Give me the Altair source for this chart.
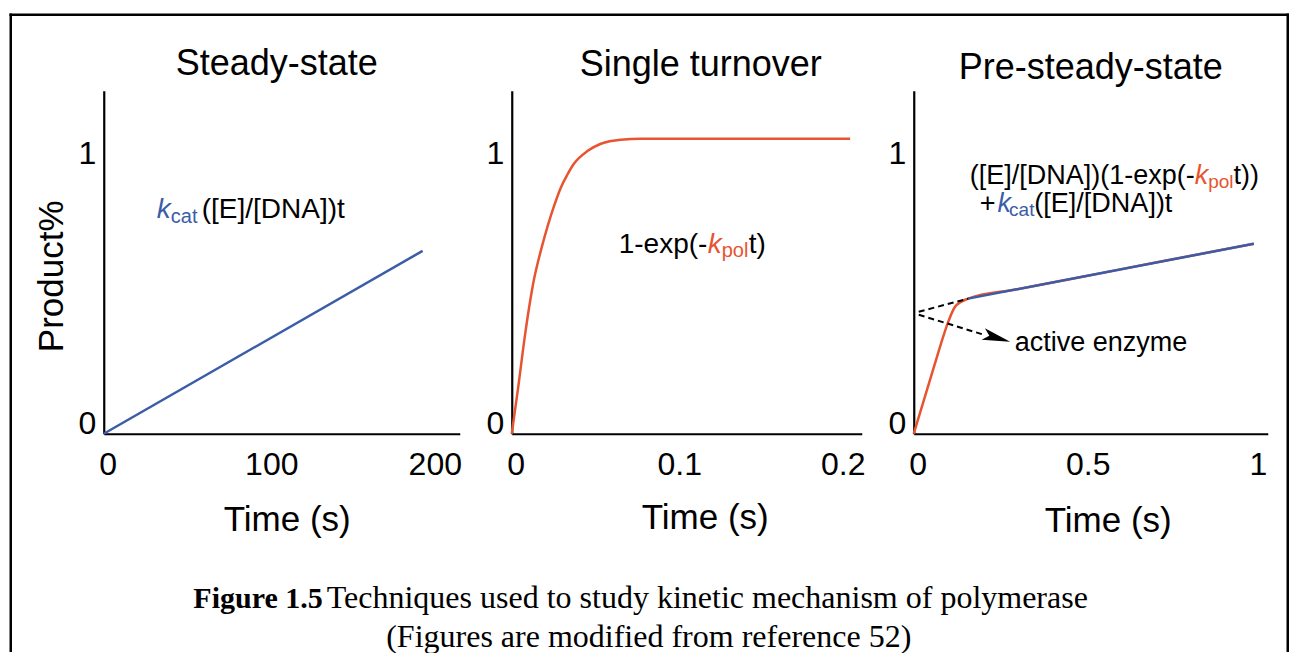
import altair as alt
import pandas as pd

SANS = "Liberation Sans"
SERIF = "Liberation Serif"
BLUE = "#3b5ca8"
RED = "#e8542f"

# ---------------- data ----------------
# Panel 1: steady-state (linear)
ss_t = [0, 195]
ss_p = [0, 0.62]

# Panel 2: single turnover (burst to plateau)
st_t = [0, 0.004, 0.008, 0.0135, 0.018, 0.022, 0.026, 0.030, 0.034, 0.038, 0.0465, 0.0545, 0.0667, 0.079, 0.1, 0.207]
st_p = [0, 0.16, 0.33, 0.52, 0.625, 0.705, 0.774, 0.834, 0.878, 0.915, 0.959, 0.983, 0.997, 1.0, 1.0, 1.0]

# Panel 3: pre-steady-state (burst + linear)
ps_red_t = [0, 0.02, 0.04, 0.06, 0.08, 0.10, 0.12, 0.14, 0.16, 0.3, 0.5, 0.7, 1.0]
ps_red_p = [0, 0.077, 0.153, 0.229, 0.305, 0.375, 0.428, 0.448, 0.458, 0.489, 0.533, 0.578, 0.644]
ps_blue_t = [0.16, 1.0]
ps_blue_p = [0.458, 0.644]
dash_seg = ["a", "a", "b", "b"]
dash_t = [0.0147, 0.16, 0.0147, 0.206]
dash_p = [0.4136, 0.458, 0.4034, 0.3356]
arrow_t = [0.244]
arrow_p = [0.325]

titles = ["Steady-state", "Single turnover", "Pre-steady-state"]
x_ticks = [[0, 100, 200], [0, 0.1, 0.2], [0, 0.5, 1]]
y_ticks = [0, 1]
x_title = "Time (s)"
y_title = "Product%"
caption_bold = ["Figure 1.5"]
caption_line1 = ["Techniques used to study kinetic mechanism of polymerase"]
caption_line2 = ["(Figures are modified from reference 52)"]

# ---------------- encoders ----------------
def X(xmax, ticks, title_x, title_y):
    return alt.X(
        "t:Q",
        scale=alt.Scale(domain=[0, xmax], nice=False, zero=False),
        axis=alt.Axis(
            values=ticks, format="~r", title=x_title, labelFlush=False,
            labelOffset=4, labelPadding=16, titleX=title_x, titleY=title_y,
            titleBaseline="top", titleAlign="center",
        ),
    )


def Y(with_title):
    kw = dict(
        values=y_ticks, format="~r", labelPadding=8,
        labelBaseline={"condition": {"test": "datum.value == 0", "value": "alphabetic"}, "value": "top"},
    )
    if with_title:
        kw.update(title=y_title, titleX=-41, titleY=185, titleAngle=270,
                  titleBaseline="alphabetic", titleAlign="center")
    else:
        kw.update(title=None)
    return alt.Y("p:Q", scale=alt.Scale(domain=[0, 1.1627], nice=False), axis=alt.Axis(**kw))


def line(df, xe, ye, color, interp="linear", width=2.5):
    return alt.Chart(df).mark_line(color=color, strokeWidth=width, interpolate=interp).encode(x=xe, y=ye)


def label(txt, t, p, xe, ye, size, color="black", italic=False):
    df = pd.DataFrame({"txt": [txt], "t": [t], "p": [p]})
    kw = dict(align="left", baseline="alphabetic", font=SANS, fontSize=size, color=color)
    if italic:
        kw["fontStyle"] = "italic"
    return alt.Chart(df).mark_text(**kw).encode(x=xe, y=ye, text="txt:N")


def ttl(text, dx, offset):
    return alt.Title(text, font=SANS, fontSize=36, fontWeight="normal", color="black",
                     anchor="middle", baseline="alphabetic", dx=dx, offset=offset, frame="group")


one = pd.DataFrame({"k": [0]})

# ---------------- panel 1 ----------------
x1 = X(217.7, x_ticks[0], 183, 69)
y1 = Y(True)
p1_layers = [
    line(pd.DataFrame({"t": ss_t, "p": ss_p}), x1, y1, BLUE),
    label("k", 32.4, 0.732, x1, y1, 28, BLUE, True),
    label("cat", 41.0, 0.715, x1, y1, 20, BLUE),
    label("([E]/[DNA])t", 59.9, 0.732, x1, y1, 28),
    # frame (pixel decoration)
    alt.Chart(one).mark_rule(color="black", strokeWidth=2.5, strokeCap="square").encode(
        x=alt.value(-93), y=alt.value(-76), y2=alt.value(560)),
    alt.Chart(one).mark_rule(color="black", strokeWidth=2.5, strokeCap="square").encode(
        x=alt.value(1184), y=alt.value(-76), y2=alt.value(560)),
    alt.Chart(one).mark_rule(color="black", strokeWidth=2.5, strokeCap="square").encode(
        x=alt.value(-93), x2=alt.value(1184), y=alt.value(-76)),
    # caption
    alt.Chart(pd.DataFrame({"c": caption_bold})).mark_text(
        font=SERIF, fontSize=30, fontWeight="bold", align="right", baseline="alphabetic", color="black"
    ).encode(x=alt.value(219), y=alt.value(517), text="c:N"),
    alt.Chart(pd.DataFrame({"c": caption_line1})).mark_text(
        font=SERIF, fontSize=32, align="left", baseline="alphabetic", color="black"
    ).encode(x=alt.value(223), y=alt.value(517), text="c:N"),
    alt.Chart(pd.DataFrame({"c": caption_line2})).mark_text(
        font=SERIF, fontSize=32, align="center", baseline="alphabetic", color="black"
    ).encode(x=alt.value(545), y=alt.value(556), text="c:N"),
]
# panel 1's group bounds start at the frame's top line, so its title offset is negative
p1 = alt.layer(*p1_layers).properties(width=356, height=343, title=ttl(titles[0], -5, -98))

# ---------------- panel 2 ----------------
x2 = X(0.2141, x_ticks[1], 193, 67)
y2 = Y(False)
p2 = alt.layer(
    line(pd.DataFrame({"t": st_t, "p": st_p}), x2, y2, RED, "monotone"),
    label("1-exp(-", 0.0654, 0.6136, x2, y2, 28),
    label("k", 0.1199, 0.6136, x2, y2, 28, RED, True),
    label("pol", 0.1284, 0.600, x2, y2, 20, RED),
    label("t)", 0.145, 0.6136, x2, y2, 28),
).properties(width=350, height=343, title=ttl(titles[1], 14, -21))

# ---------------- panel 3 ----------------
x3 = X(1.041, x_ticks[2], 194, 70)
y3 = Y(False)
p3 = alt.layer(
    line(pd.DataFrame({"t": ps_red_t, "p": ps_red_p}), x3, y3, RED, "monotone"),
    line(pd.DataFrame({"t": ps_blue_t, "p": ps_blue_p}), x3, y3, BLUE),
    alt.Chart(pd.DataFrame({"seg": dash_seg, "t": dash_t, "p": dash_p})).mark_line(
        color="black", strokeWidth=2, strokeDash=[6, 4]
    ).encode(x=x3, y=y3, detail="seg:N"),
    alt.Chart(pd.DataFrame({"t": arrow_t, "p": arrow_p})).mark_point(
        shape="M-1,-0.42L1,0L-1,0.42L-0.55,0Z", filled=True, size=784, angle=16,
        color="black", opacity=1, strokeWidth=0
    ).encode(x=x3, y=y3),
    label("([E]/[DNA])(1-exp(-", 0.1647, 0.8475, x3, y3, 27),
    label("k", 0.8265, 0.8475, x3, y3, 27, RED, True),
    label("pol", 0.866, 0.834, x3, y3, 19, RED),
    label("t))", 0.9406, 0.8475, x3, y3, 27),
    label("+", 0.194, 0.7525, x3, y3, 27),
    label("k", 0.2465, 0.7525, x3, y3, 27, BLUE, True),
    label("cat", 0.2803, 0.739, x3, y3, 19, BLUE),
    label("([E]/[DNA])t", 0.3547, 0.7525, x3, y3, 27),
    label("active enzyme", 0.297, 0.281, x3, y3, 27),
).properties(width=354, height=343, title=ttl(titles[2], 0, -24))

chart = alt.hconcat(p1, p2, p3, spacing=52, bounds="flush").properties(
    padding={"left": 8.75, "top": 12.75, "right": 4, "bottom": 0},
    background="white",
).configure_view(stroke=None).configure_axis(
    labelFont=SANS, labelFontSize=32, labelColor="black",
    domainColor="black", domainWidth=2.2, ticks=False, tickSize=0, grid=False,
    titleFont=SANS, titleFontSize=35, titleFontWeight="normal", titleColor="black",
)

chart.save("out.html", embed_options={"renderer": "svg", "actions": False})
